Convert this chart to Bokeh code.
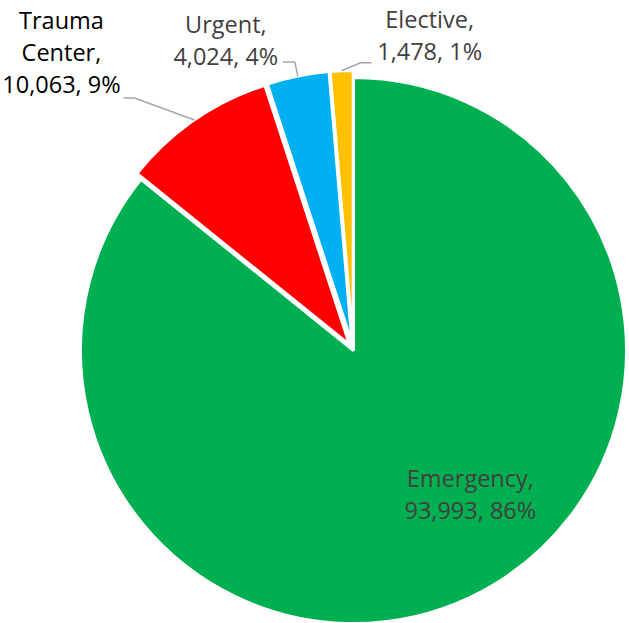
import numpy as np
from bokeh.plotting import figure
from bokeh.models import Range1d
from bokeh.embed import file_html
from bokeh.resources import INLINE
from bokeh.core.properties import value

# ---- data ----
categories = ["Emergency", "Trauma Center", "Urgent", "Elective"]
counts = [93993, 10063, 4024, 1478]
colors = ["#00B050", "#FF0000", "#00B0F0", "#FFC000"]
name_lines = [["Emergency,"], ["Trauma", "Center,"], ["Urgent,"], ["Elective,"]]
label_colors = ["#404040", "#000000", "#404040", "#404040"]

# ---- layout / style ----
W, H = 629, 623
CX, CY, R = 353, 350, 273          # screen coords (y down)
EXPLODE = [0, 7, 7, 7]
LINE_GAP = 32
FONT = "Open Sans"
FSIZE = "23.5px"
BASE_SHIFT = -8
# label offsets from slice outer-mid point: (dx, dy of last baseline)
label_off = [(-1, -79), (-133, -28), (-72, -12), (88, -12)]
# leader polyline offsets from outer-mid point (None = no leader)
leader_off = [None, [(-60, -22), (-71, -22)], [(-3, -14), (-15, -14)], [(19, -8), (30, -8)]]

def ys(y):
    return H - y

p = figure(width=W, height=H, output_backend="svg", toolbar_location=None,
           x_range=Range1d(0, W), y_range=Range1d(0, H), min_border=0)
p.axis.visible = False
p.grid.visible = False
p.outline_line_color = None
p.background_fill_color = "white"

vals = np.array(counts, dtype=float)
total = vals.sum()
fracs = vals / total
cum = np.concatenate([[0], np.cumsum(fracs)[:-1]])
start_deg = 90 - cum * 360
end_deg = start_deg - fracs * 360
mid_deg = (start_deg + end_deg) / 2

for i in range(len(counts)):
    m = np.radians(mid_deg[i])
    cx = CX + EXPLODE[i] * np.cos(m)
    cy = CY - EXPLODE[i] * np.sin(m)
    p.wedge(x=[cx], y=[ys(cy)], radius=R,
            start_angle=[np.radians(end_deg[i])], end_angle=[np.radians(start_deg[i])],
            fill_color=colors[i], line_color="white", line_width=3)

for i in range(len(counts)):
    m = np.radians(mid_deg[i])
    cx = CX + EXPLODE[i] * np.cos(m)
    cy = CY - EXPLODE[i] * np.sin(m)
    px = cx + R * np.cos(m)
    py = cy - R * np.sin(m)
    pct = int(round(fracs[i] * 100))
    lines = name_lines[i] + [f"{counts[i]:,}, {pct}%"]
    lx = px + label_off[i][0]
    lb = py + label_off[i][1] + BASE_SHIFT
    n = len(lines)
    for k, t in enumerate(lines):
        by = lb - (n - 1 - k) * LINE_GAP
        p.text(x=[lx], y=[ys(by)], text=[t], text_align="center",
               text_baseline="alphabetic", text_font=value(FONT),
               text_font_size=FSIZE, text_color=label_colors[i])
    if leader_off[i] is not None:
        xs = [px] + [px + d[0] for d in leader_off[i]]
        yv = [ys(py)] + [ys(py + d[1]) for d in leader_off[i]]
        p.line(xs, yv, line_color="#A6A6A6", line_width=1.5)

open("out.html", "w").write(file_html(p, INLINE))
